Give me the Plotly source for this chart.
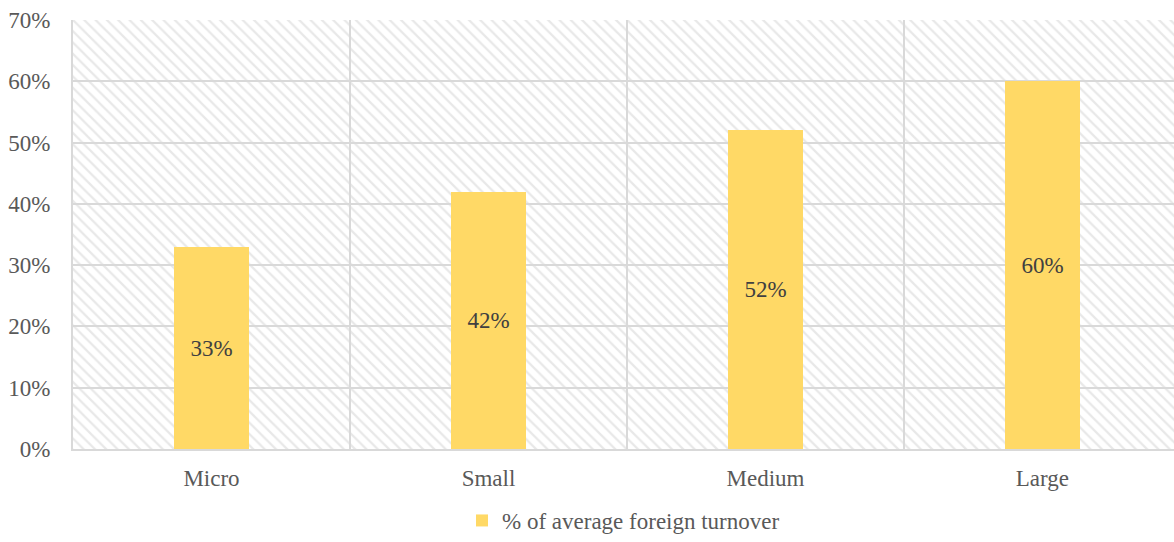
import plotly.graph_objects as go

# Share of average foreign turnover by firm size
categories = ["Micro", "Small", "Medium", "Large"]
shares = [0.33, 0.42, 0.52, 0.60]
series_name = "% of average foreign turnover"
y_ticks = [0, 0.1, 0.2, 0.3, 0.4, 0.5, 0.6, 0.7]

FONT = "Liberation Serif"
FS = 23
GRID = "#d9d9d9"
BAR = "#FFD966"

fig = go.Figure()

# Hatched plot-area backdrop on its own subplot, drawn beneath the bars' grid
fig.add_trace(go.Scatter(
    x=[0, 1, 1, 0, 0], y=[0, 0, 1, 1, 0],
    xaxis="x", yaxis="y",
    mode="none", fill="toself", fillcolor="white",
    fillpattern=dict(shape="\\", fgcolor="#d2d2d2", bgcolor="white",
                     size=8, solidity=0.28),
    hoverinfo="skip", showlegend=False,
))

fig.add_trace(go.Bar(
    x=categories, y=shares, name=series_name,
    xaxis="x2", yaxis="y2",
    marker=dict(color=BAR, line=dict(width=0)),
    width=0.27,
    text=[f"{v:.0%}" for v in shares],
    textposition="inside", insidetextanchor="middle",
    textfont=dict(family=FONT, size=FS, color="#404040"),
    showlegend=True,
))

fig.update_layout(
    width=1174, height=542,
    margin=dict(l=73, r=0, t=20, b=93, autoexpand=False),
    paper_bgcolor="white", plot_bgcolor="rgba(0,0,0,0)",
    font=dict(family=FONT, size=FS, color="#595959"),
    xaxis=dict(domain=[0, 1], range=[0, 1], visible=False, fixedrange=True),
    yaxis=dict(domain=[0, 1], range=[0, 1], visible=False, fixedrange=True),
    xaxis2=dict(
        domain=[0, 1], anchor="y2", type="category",
        range=[-0.5, 3.475], automargin=False,
        tickson="boundaries", showgrid=True, gridcolor=GRID, gridwidth=2,
        showline=True, linecolor=GRID, linewidth=2,
        ticks="", ticklabelstandoff=7,
        tickfont=dict(family=FONT, size=FS, color="#595959"),
    ),
    yaxis2=dict(
        domain=[0, 1], anchor="x2", range=[0, 0.70], automargin=False,
        tickvals=y_ticks, tickformat=".0%",
        showgrid=True, gridcolor=GRID, gridwidth=2,
        showline=True, linecolor=GRID, linewidth=2,
        zeroline=False, ticks="", ticklabelstandoff=16,
        tickfont=dict(family=FONT, size=FS, color="#595959"),
    ),
    showlegend=True,
    legend=dict(orientation="h", x=0.5, xanchor="center",
                yref="container", y=0.0, yanchor="bottom",
                font=dict(family=FONT, size=FS, color="#595959"),
                itemwidth=30),
    bargap=0,
)

fig.write_html("out.html")
